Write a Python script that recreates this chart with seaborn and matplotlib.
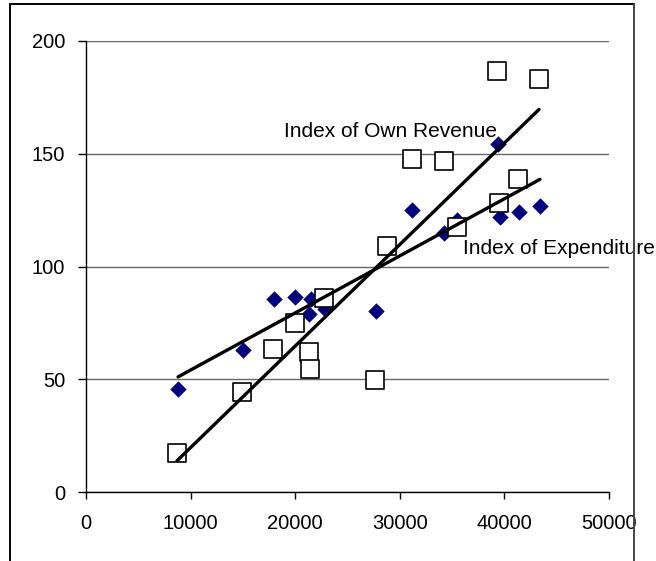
import matplotlib.pyplot as plt
import numpy as np
import pandas as pd
import seaborn as sns
from matplotlib.lines import Line2D

# values
exp_x = [8800, 15010, 17970, 19980, 21510, 21320, 22850, 27720,
         31170, 34220, 35470, 39390, 39580, 41400, 43400]
exp_y = [45.6, 63.0, 85.6, 86.5, 85.6, 78.9, 81.0, 80.3,
         125.0, 115.0, 120.6, 154.3, 122.0, 124.0, 127.0]
rev_x = [8700, 14910, 17880, 19980, 21320, 21410, 22750, 27630,
         28780, 31170, 34220, 35470, 39480, 39290, 41300, 43310]
rev_y = [17.3, 44.3, 63.4, 75.0, 62.0, 54.5, 86.0, 49.7,
         109.0, 147.7, 146.8, 117.5, 128.0, 186.7, 139.0, 183.0]

x_ticks = [0, 10000, 20000, 30000, 40000, 50000]
y_ticks = [0, 50, 100, 150, 200]

exp_df = pd.DataFrame({"x": exp_x, "y": exp_y})
rev_df = pd.DataFrame({"x": rev_x, "y": rev_y})

sns.set_style("white")
plt.rcParams["font.family"] = ["Liberation Sans", "DejaVu Sans"]

fig = plt.figure(figsize=(6.56, 5.61), dpi=100)
ax = fig.add_axes([86 / 656, 69 / 561, 523 / 656, 451 / 561])

sns.scatterplot(data=exp_df, x="x", y="y", ax=ax, marker="D", s=70,
                color="#000080", linewidth=0, zorder=3)
sns.scatterplot(data=rev_df, x="x", y="y", ax=ax, marker="s", s=150,
                facecolor="white", edgecolor="black", linewidth=1.2, zorder=4)
sns.regplot(data=rev_df, x="x", y="y", ax=ax, scatter=False, ci=None,
            truncate=True, line_kws={"color": "black", "lw": 2.4, "zorder": 5})
sns.regplot(data=exp_df, x="x", y="y", ax=ax, scatter=False, ci=None,
            truncate=True, line_kws={"color": "black", "lw": 2.4, "zorder": 5})

ax.text(18930, 160, "Index of Own Revenue", fontsize=15, va="center",
        ha="left", color="black", zorder=6)
ax.text(36000, 108.2, "Index of Expenditure", fontsize=15, va="center",
        ha="left", color="black", zorder=6, clip_on=False)

ax.set_xlim(0, 50000)
ax.set_ylim(0, 200)
ax.set_xticks(x_ticks)
ax.set_yticks(y_ticks)
ax.set_xlabel("")
ax.set_ylabel("")
ax.tick_params(axis="both", labelsize=14.5, direction="out", color="black",
               labelcolor="black", width=1, left=True, bottom=True)
ax.tick_params(axis="y", length=6, pad=9)
ax.tick_params(axis="x", length=5, pad=11)
ax.yaxis.grid(True, color="#666666", lw=1)
ax.set_axisbelow(True)
for side in ["top", "right"]:
    ax.spines[side].set_visible(False)
for side in ["left", "bottom"]:
    ax.spines[side].set_color("black")
    ax.spines[side].set_linewidth(1)

# outer frame of the chart area
fig.add_artist(Line2D([10 / 656, 10 / 656], [0, 1 - 4 / 561], color="black", lw=1.4, zorder=10))
fig.add_artist(Line2D([10 / 656, 634 / 656], [1 - 4 / 561, 1 - 4 / 561], color="black", lw=1.4, zorder=10))
fig.add_artist(Line2D([634 / 656, 634 / 656], [0, 1 - 4 / 561], color="#444444", lw=1.4, zorder=10))

fig.savefig("out.png", dpi=100)
